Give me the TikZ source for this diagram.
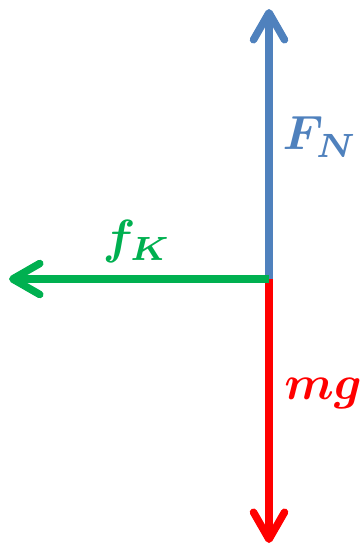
\documentclass[tikz,border=0pt]{standalone}
\usepackage{amsmath}
\usetikzlibrary{arrows.meta}
\definecolor{fblue}{RGB}{79,129,189}
\definecolor{fgreen}{RGB}{0,176,80}
\definecolor{fred}{RGB}{255,0,0}
\tikzset{
  force/.style={line width=7.5pt,-{Straight Barb[length=27pt,width=31pt,line width=7.5pt,round]}},
  flabel/.style={inner sep=0pt,scale=4.8}
}
\begin{document}
\begin{tikzpicture}[x=1pt,y=-1pt]
\useasboundingbox (0,0) rectangle (361,549);
\coordinate (o) at (269,279);
\coordinate (up) at (269,9);
\coordinate (down) at (269,543);
\coordinate (left) at (9,279);
\draw[force,fblue] (o) -- (up);
\draw[force,fred] (o) -- (down);
\draw[force,fgreen] (o) -- (left);
\node[flabel,text=fblue] (fn) at (320,137) {$\boldsymbol{F_N}$};
\node[flabel,text=fgreen] (fk) at (137,241) {$\boldsymbol{f_K}$};
\node[flabel,text=fred] (mg) at (323,393) {$\boldsymbol{mg}$};
\end{tikzpicture}
\end{document}
